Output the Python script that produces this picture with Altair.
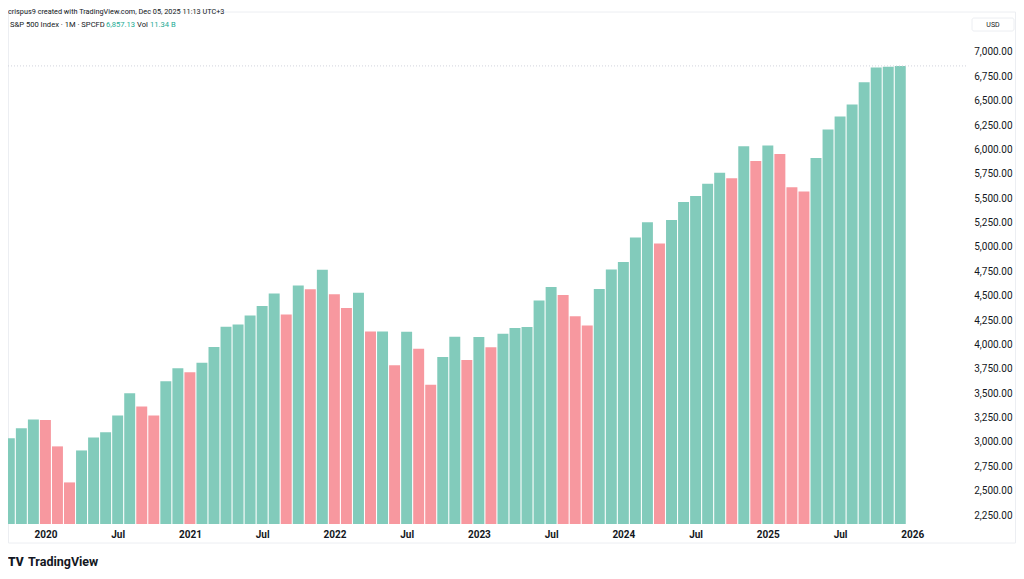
import altair as alt
import pandas as pd

# ---------------- data ----------------
months = [p.strftime("%Y-%m") for p in pd.period_range("2019-10", "2025-12", freq="M")]
closes = [
    3037.56, 3140.98, 3230.78,                                   # 2019 Oct-Dec
    3225.52, 2954.22, 2584.59, 2912.43, 3044.31, 3100.29,
    3271.12, 3500.31, 3363.00, 3269.96, 3621.63, 3756.07,        # 2020
    3714.24, 3811.15, 3972.89, 4181.17, 4204.11, 4297.50,
    4395.26, 4522.68, 4307.54, 4605.38, 4567.00, 4766.18,        # 2021
    4515.55, 4373.94, 4530.41, 4131.93, 4132.15, 3785.38,
    4130.29, 3955.00, 3585.62, 3871.98, 4080.11, 3839.50,        # 2022
    4076.60, 3970.15, 4109.31, 4169.48, 4179.83, 4450.38,
    4588.96, 4507.66, 4288.05, 4193.80, 4567.80, 4769.83,        # 2023
    4845.65, 5096.27, 5254.35, 5035.69, 5277.51, 5460.48,
    5522.30, 5648.40, 5762.48, 5705.45, 6032.38, 5881.63,        # 2024
    6040.53, 5954.50, 5611.85, 5569.06, 5911.69, 6204.95,
    6339.39, 6460.26, 6688.46, 6840.20, 6849.09, 6857.13,        # 2025
]
prev_close_before_first = 2976.74  # Sep 2019 close

tick_months = ["2020-01", "2020-07", "2021-01", "2021-07", "2022-01", "2022-07",
               "2023-01", "2023-07", "2024-01", "2024-07", "2025-01", "2025-07", "2026-01"]
tick_labels = ["2020", "Jul", "2021", "Jul", "2022", "Jul",
               "2023", "Jul", "2024", "Jul", "2025", "Jul", "2026"]
y_ticks = list(range(2250, 7001, 250))

header_line1 = "crispus9 created with TradingView.com, Dec 05, 2025 11:13 UTC+3"
header_symbol = "S&P 500 Index · 1M · SPCFD"
header_price = "6,857.13"
header_vol_label = "Vol"
header_vol = "11.34 B"
currency = "USD"
brand = "TradingView"

# ---------------- derived tables ----------------
def month_index(m):
    y, mo = map(int, m.split("-"))
    return (y - 2019) * 12 + (mo - 10)

prev = [prev_close_before_first] + closes[:-1]
df = pd.DataFrame({
    "month": months,
    "idx": list(range(len(months))),
    "close": closes,
    "dir": ["up" if c >= p else "down" for c, p in zip(closes, prev)],
})
tick_idx = [month_index(m) for m in tick_months]
label_expr = (
    "[" + ",".join(f"'{l}'" for l in tick_labels) + "]"
    + "[indexof([" + ",".join(str(i) for i in tick_idx) + "], datum.value)]"
)

W, H = 952, 484
Y_MIN, Y_MAX = 2158, 7123
FONT = "Roboto"
DARK = "#131722"
UP, DOWN = "#82cbbb", "#f7989f"

x_scale = alt.Scale(domain=[-0.108, 78.96], nice=False, zero=False)
y_scale = alt.Scale(domain=[Y_MIN, Y_MAX], nice=False, zero=False)

x_axis = alt.Axis(
    values=tick_idx, labelExpr=label_expr, ticks=False, tickSize=0, domain=False,
    grid=False, labelPadding=5, labelFont=FONT, labelFontSize=10, labelColor=DARK,
    labelFontWeight={"condition": {"test": "datum.label == 'Jul'", "value": "normal"},
                     "value": "bold"},
    labelOverlap=False, labelFlush=False)
y_axis = alt.Axis(
    orient="right", values=y_ticks, format=",.2f", ticks=False, tickSize=0,
    domain=False, grid=False, labelAlign="right", labelBaseline="middle",
    labelPadding=52, labelFont=FONT, labelFontSize=10, labelColor=DARK,
    labelOverlap=False, labelFlush=False)

bars = alt.Chart(df).transform_calculate(
    x0="datum.idx - 0.455", x1="datum.idx + 0.455"
).mark_bar(clip=True).encode(
    x=alt.X("x0:Q", scale=x_scale, title=None, axis=x_axis),
    x2="x1:Q",
    y=alt.Y("close:Q", scale=y_scale, title=None, axis=y_axis),
    y2=alt.datum(Y_MIN),
    color=alt.Color("dir:N", scale=alt.Scale(domain=["up", "down"], range=[UP, DOWN]),
                    legend=None),
)

last_line = alt.Chart(pd.DataFrame({"v": [closes[-1]]})).mark_rule(
    color="#d1d4dc", strokeDash=[1, 2], strokeWidth=1
).encode(y=alt.Y("v:Q", scale=y_scale, title=None, axis=y_axis),
         x=alt.value(0), x2=alt.value(W + 7))

frame = alt.Chart(pd.DataFrame({"a": [0]})).mark_rect(
    fill=None, stroke="#eceef2", strokeWidth=1
).encode(x=alt.value(0.5), x2=alt.value(1007.5), y=alt.value(-28), y2=alt.value(503))

usd_box = alt.Chart(pd.DataFrame({"a": [0]})).mark_rect(
    fill="#ffffff", stroke="#eceef2", strokeWidth=1, cornerRadius=2
).encode(x=alt.value(964), x2=alt.value(1006), y=alt.value(-22), y2=alt.value(-9))

def text_layer(t, x, y, size, color=DARK, weight="normal", align="left"):
    return alt.Chart(pd.DataFrame({"t": [t]})).mark_text(
        align=align, baseline="middle", font=FONT, fontSize=size, color=color,
        fontWeight=weight
    ).encode(text="t:N", x=alt.value(x), y=alt.value(y))

texts = [
    text_layer(header_line1, 0, -28, 7.3),
    text_layer(header_symbol, 2, -15.5, 7.6),
    text_layer(header_price, 98, -15.5, 7.6, color="#22ab94"),
    text_layer(header_vol_label, 129, -15.5, 7.6),
    text_layer(header_vol, 142, -15.5, 7.6, color="#22ab94"),
    text_layer(currency, 985, -15.5, 7, align="center"),
    text_layer("TV", 0, 522, 12, weight=900),
    text_layer(brand, 20, 522, 12.5, weight="bold"),
]

chart = alt.layer(frame, usd_box, bars, last_line, *texts).properties(
    width=W, height=H,
    autosize=alt.AutoSizeParams(type="none"),
    padding={"top": 32, "left": 0, "right": 56, "bottom": 47},
).configure(background="#ffffff").configure_view(stroke=None)

chart.save("out.html", embed_options={"renderer": "svg", "actions": False})
